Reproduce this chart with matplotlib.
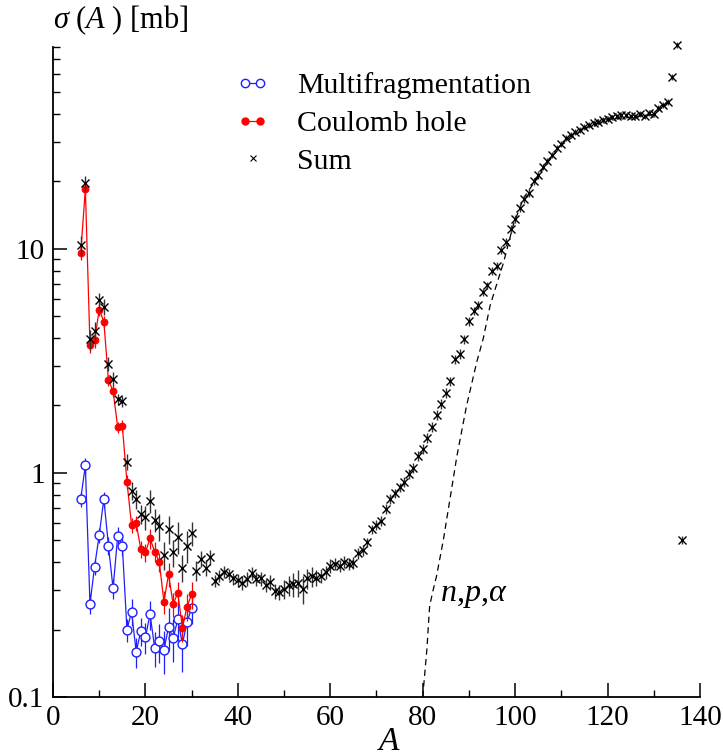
import numpy as np
import matplotlib
matplotlib.use('Agg')
import matplotlib.pyplot as plt
from matplotlib.lines import Line2D
from matplotlib.legend_handler import HandlerLine2D
from matplotlib.ticker import FixedLocator, NullFormatter, FixedFormatter

plt.rcParams['font.family'] = ['Liberation Serif', 'DejaVu Serif']
plt.rcParams['mathtext.fontset'] = 'custom'
plt.rcParams['mathtext.rm'] = 'Liberation Serif'
plt.rcParams['mathtext.it'] = 'Liberation Serif:italic'

# ---------------- data ----------------
A_frag = list(range(6, 31))
multifrag = [0.765, 1.08, 0.261, 0.382, 0.528, 0.765, 0.473, 0.305, 0.524, 0.473,
             0.200, 0.240, 0.159, 0.197, 0.185, 0.234, 0.166, 0.177, 0.162, 0.205,
             0.183, 0.222, 0.172, 0.216, 0.249]
multifrag_err = [0.08, 0.08, 0.10, 0.08, 0.08, 0.08, 0.09, 0.10, 0.09, 0.10,
                 0.12, 0.14, 0.15, 0.14, 0.16, 0.15, 0.18, 0.20, 0.22, 0.22,
                 0.22, 0.20, 0.25, 0.22, 0.15]
coulomb = [9.6, 18.5, 3.74, 3.91, 5.36, 4.74, 2.59, 2.32, 1.60, 1.62,
           0.914, 0.585, 0.597, 0.457, 0.442, 0.510, 0.445, 0.401, 0.266, 0.353,
           0.259, 0.292, 0.204, 0.253, 0.287]
coulomb_err = [0.07, 0.05, 0.08, 0.08, 0.06, 0.06, 0.06, 0.06, 0.06, 0.06,
               0.07, 0.08, 0.08, 0.09, 0.09, 0.10, 0.10, 0.10, 0.12, 0.12,
               0.12, 0.12, 0.14, 0.14, 0.14]

A_sum = list(range(6, 137))
sum_vals = [10.4, 19.6, 3.95, 4.29, 5.9, 5.51, 3.07, 2.63, 2.13, 2.09,          # 6-15
            1.12, 0.833, 0.765, 0.656, 0.634, 0.752, 0.618, 0.577, 0.430, 0.562,  # 16-25
            0.442, 0.519, 0.378, 0.473, 0.539, 0.366, 0.415, 0.378, 0.420, 0.329,  # 26-35
            0.348, 0.362, 0.353, 0.338, 0.332, 0.324, 0.336, 0.357, 0.336, 0.338,  # 36-45
            0.315, 0.326, 0.297, 0.294, 0.303, 0.315, 0.319, 0.324, 0.303, 0.338,  # 46-55
            0.345, 0.341, 0.347, 0.360, 0.385, 0.392, 0.385, 0.401, 0.392, 0.398,  # 56-65
            0.438, 0.451, 0.490, 0.560, 0.586, 0.612, 0.690, 0.765, 0.811, 0.863,  # 66-75
            0.914, 0.990, 1.05, 1.19, 1.28, 1.43, 1.60, 1.82, 2.04, 2.27,          # 76-85
            2.56, 3.21, 3.41, 3.95, 4.75, 5.29, 5.61, 6.39, 6.87, 7.96,            # 86-95
            8.41, 9.88, 10.7, 12.3, 13.6, 15.2, 16.7, 17.7, 20.0, 21.4,            # 96-105
            23.3, 24.6, 26.3, 28.2, 29.4, 31.2, 32.1, 33.2, 34.0, 34.9,            # 106-115
            35.6, 36.4, 37.0, 37.7, 38.1, 38.6, 39.0, 39.4, 39.4, 39.0,            # 116-125
            39.0, 40.0, 39.0, 40.4, 40.0, 42.5, 43.7, 45.2, 58.3, 81.0,            # 126-135
            0.503]                                                                 # 136
sum_err = [0.10, 0.08, 0.10, 0.10, 0.08, 0.08, 0.07, 0.07, 0.06, 0.06,
           0.08, 0.09, 0.10, 0.10, 0.12, 0.12, 0.12, 0.14, 0.14, 0.14,
           0.14, 0.16, 0.14, 0.16, 0.12, 0.10, 0.08, 0.08, 0.08, 0.06,
           0.06, 0.06, 0.06, 0.06, 0.07, 0.07, 0.07, 0.07, 0.07, 0.07,
           0.07, 0.08, 0.08, 0.08, 0.10, 0.10, 0.12, 0.14, 0.14, 0.10,
           0.10, 0.08, 0.07, 0.07, 0.07, 0.06, 0.06, 0.06, 0.06, 0.06,
           0.06, 0.06, 0.05, 0.05, 0.05, 0.05, 0.05, 0.05, 0.05, 0.05,
           0.05, 0.05, 0.05, 0.05, 0.05, 0.05, 0.05, 0.05, 0.05, 0.05,
           0.05, 0.05, 0.05, 0.05, 0.05, 0.04, 0.04, 0.04, 0.04, 0.04,
           0.04, 0.04, 0.04, 0.04, 0.04, 0.04, 0.04, 0.04, 0.04, 0.04,
           0.03, 0.03, 0.03, 0.03, 0.03, 0.03, 0.03, 0.03, 0.03, 0.03,
           0.03, 0.03, 0.03, 0.03, 0.03, 0.03, 0.03, 0.03, 0.03, 0.03,
           0.03, 0.03, 0.03, 0.03, 0.03, 0.03, 0.03, 0.03, 0.03, 0.03,
           0.04]

A_evap = [80.0, 80.9, 81.5, 82.3, 83.0, 84.5, 85.2, 87.4, 89.5, 91.7, 93.1, 94.6,
          96.4, 97.5, 99.6, 101.8, 103.9, 106.0, 110.0, 115.0, 120.0, 125.0, 130.0, 133.0]
evap = [0.10, 0.163, 0.255, 0.303, 0.347, 0.507, 0.623, 1.19, 2.0, 3.13, 3.98, 5.6,
        7.38, 8.7, 12.8, 16.8, 19.5, 22.8, 29.0, 34.5, 37.8, 38.7, 39.8, 44.8]

x_ticks = [0, 20, 40, 60, 80, 100, 120, 140]
y_ticks = [0.1, 1, 10]
y_tick_labels = ['0.1', '1', '10']

# ---------------- figure ----------------
fig = plt.figure(figsize=(7.23, 7.56), dpi=100)
ax = fig.add_axes([53 / 723, 59 / 756, 647 / 723, 650.5 / 756])

ms = np.array(multifrag)
ax.errorbar(A_frag, multifrag, yerr=ms * np.array(multifrag_err), fmt='-o', color='#1f1fff',
            mfc='white', mec='#1f1fff', ms=6.4, mew=1.0, lw=0.9, elinewidth=0.9, capsize=0,
            zorder=3)
cs = np.array(coulomb)
ax.errorbar(A_frag, coulomb, yerr=cs * np.array(coulomb_err), fmt='-o', color='#ff0000',
            mfc='#ff0000', mec='#ff0000', ms=4.8, mew=0.8, lw=0.9, elinewidth=0.9, capsize=0,
            zorder=4)
ss = np.array(sum_vals)
ax.errorbar(A_sum, sum_vals, yerr=ss * np.array(sum_err), fmt='x', color='black',
            ecolor='#333333', ms=5.5, mew=1.0, elinewidth=1.0, capsize=0, zorder=5,
            clip_on=False)
ax.plot(A_evap, evap, ls=(0, (5, 3.5)), color='black', lw=0.9, zorder=2)

ax.text(83.8, 0.285, r'$n$,$p$,$\alpha$', fontsize=23, ha='left', va='center')

# axes styling
ax.set_yscale('log')
ax.set_xlim(0, 140)
ax.set_ylim(0.1, 80)
for s in ['top', 'right']:
    ax.spines[s].set_visible(False)
for s in ['left', 'bottom']:
    ax.spines[s].set_linewidth(1.3)

ax.xaxis.set_major_locator(FixedLocator(x_ticks))
ax.xaxis.set_minor_locator(FixedLocator([10, 30, 50, 70, 90, 110, 130]))
ax.yaxis.set_major_locator(FixedLocator(y_ticks))
ax.yaxis.set_major_formatter(FixedFormatter(y_tick_labels))
minor_y = [m * d for d in (0.1, 1, 10) for m in range(2, 10) if m * d <= 80]
ax.yaxis.set_minor_locator(FixedLocator(minor_y))
ax.yaxis.set_minor_formatter(NullFormatter())
ax.tick_params(which='major', direction='in', length=10, width=1.1, labelsize=21, pad=6)
ax.tick_params(which='minor', direction='in', length=5, width=1.0)

ax.set_xlabel(r'$A$', fontsize=24)
ax.xaxis.set_label_coords(0.52, -0.046)
ax.xaxis.label.set_va('top')
ax.set_ylabel(r'$\sigma\ (A\ )$ [mb]', fontsize=22, rotation=0, ha='left', va='center')
ax.yaxis.set_label_coords(0.0, 1.041)

# legend
h_mf = Line2D([], [], color='#1f1fff', marker='o', mfc='white', mec='#1f1fff', ms=6, lw=0.9)
h_ch = Line2D([], [], color='#ff0000', marker='o', mfc='#ff0000', mec='#ff0000', ms=5, lw=0.9)
h_sum = Line2D([], [], color='black', marker='x', ls='none', ms=4.5, mew=0.8)
leg = ax.legend([h_mf, h_ch, h_sum], ['Multifragmentation', 'Coulomb hole', 'Sum'],
                loc='upper left', bbox_to_anchor=(0.283, 0.96), frameon=False,
                fontsize=21.5, numpoints=2, handlelength=1.1, handletextpad=0.95,
                labelspacing=0.36, borderpad=0, borderaxespad=0,
                handler_map={h_sum: HandlerLine2D(numpoints=1)})

fig.savefig('out.png', dpi=100)
